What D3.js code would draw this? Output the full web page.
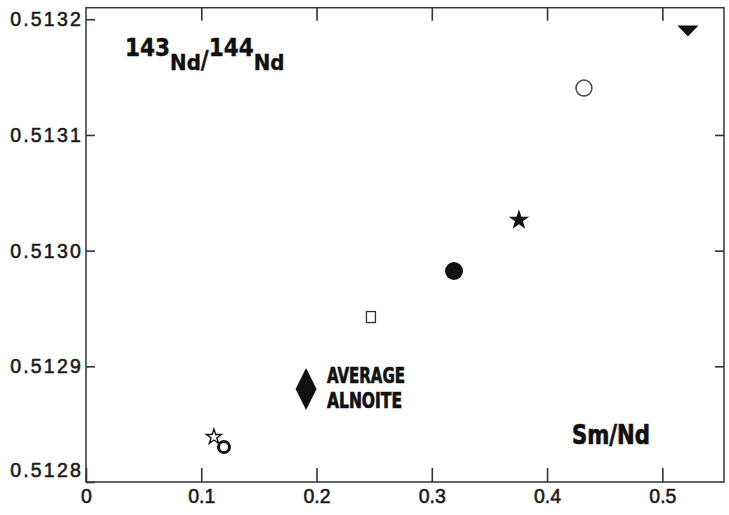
<!DOCTYPE html>
<html>
<head>
    <style>
        body { margin: 0; background: #fff; }
        .tick text { font-family: "Liberation Sans", Arial, sans-serif; font-size: 19.5px; fill: #1a1a1a; stroke: #1a1a1a; stroke-width: 0.55px; }
        .ylab .tick text { letter-spacing: 2.2px; }
        .xlab .tick text { letter-spacing: 0px; }
        .lbl { font-family: "Liberation Sans Narrow", "DejaVu Sans Condensed", sans-serif; font-weight: bold; fill: #111; stroke: #111; stroke-width: 0.7px; }
        .ttl { font-family: "DejaVu Sans Condensed", "Liberation Sans Narrow", sans-serif; font-weight: bold; fill: #111; stroke: #111; stroke-width: 0.4px; }
    </style>
    <script src="https://d3js.org/d3.v7.min.js"></script>
</head>
<body>
    <svg width="729" height="515"></svg>
    <script>
        // Sm/Nd vs 143Nd/144Nd
        var smNd   = [0.1110, 0.1197, 0.1909, 0.2472, 0.3193, 0.3756, 0.4320, 0.5222];
        var ndNd   = [0.5128389, 0.5128303, 0.5128804, 0.5129426, 0.5129824, 0.5130264, 0.5131405, 0.5131898];
        var marker = ["starOpen", "ring", "diamond", "square", "dot", "star", "circle", "triangle"];

        var xTicks = [0, 0.1, 0.2, 0.3, 0.4, 0.5];
        var yTicks = [0.5128, 0.5129, 0.5130, 0.5131, 0.5132];

        var svg = d3.select("svg");

        var x = d3.scaleLinear().domain([0, 0.5535]).range([86, 724]);
        var y = d3.scaleLinear().domain([0.5128, 0.51321]).range([482, 7.7]);

        // frame
        svg.append("rect")
           .attr("x", x.range()[0]).attr("y", y.range()[1])
           .attr("width", x.range()[1] - x.range()[0])
           .attr("height", y.range()[0] - y.range()[1])
           .attr("fill", "none").attr("stroke", "#333").attr("stroke-width", 1.5);

        // bottom axis, ticks pointing inward
        var gx = svg.append("g").attr("class", "xlab").attr("transform", "translate(0," + y.range()[0] + ")")
            .call(d3.axisBottom(x).tickValues(xTicks).tickSize(-14).tickPadding(7).tickFormat(function(d) { return d === 0 ? "0" : d3.format(".1f")(d); }));
        gx.select(".domain").remove();

        var gt = svg.append("g").attr("transform", "translate(0," + y.range()[1] + ")")
            .call(d3.axisTop(x).tickValues(xTicks.slice(1)).tickSize(-13).tickFormat(""));
        gt.select(".domain").remove();

        var gy = svg.append("g").attr("class", "ylab").attr("transform", "translate(" + x.range()[0] + ",0)")
            .call(d3.axisLeft(y).tickValues(yTicks).tickSize(-9).tickPadding(3).tickFormat(d3.format(".4f")));
        gy.select(".domain").remove();
        gy.selectAll(".tick text").attr("dy", function(d) { return d === 0.5128 ? "-0.3em" : "0.34em"; });

        var gr = svg.append("g").attr("transform", "translate(" + x.range()[1] + ",0)")
            .call(d3.axisRight(y).tickValues(yTicks.slice(1, 4)).tickSize(-9).tickFormat(""));
        gr.select(".domain").remove();

        svg.selectAll(".tick line").attr("stroke", "#333").attr("stroke-width", 1.6);

        // markers
        var data = smNd.map(function(v, i) { return { x: v, y: ndNd[i], m: marker[i] }; });

        var pts = svg.selectAll(".pt").data(data).enter().append("g")
            .attr("class", "pt")
            .attr("transform", function(d) { return "translate(" + x(d.x) + "," + y(d.y) + ")"; });

        pts.each(function(d) {
            var g = d3.select(this);
            if (d.m === "starOpen") {
                g.append("path").attr("d", d3.symbol(d3.symbolStar, 70)())
                 .attr("fill", "#fff").attr("stroke", "#111").attr("stroke-width", 1.4);
            } else if (d.m === "ring") {
                g.append("circle").attr("r", 5.5).attr("fill", "#fff").attr("stroke", "#111").attr("stroke-width", 3);
                g.append("path").attr("d", d3.symbol(d3.symbolStar, 14)()).attr("fill", "#fff");
            } else if (d.m === "diamond") {
                g.append("path").attr("d", d3.symbol(d3.symbolSquare, 220)())
                 .attr("transform", "scale(1,2) rotate(45)").attr("fill", "#111");
            } else if (d.m === "square") {
                g.append("rect").attr("x", -4.5).attr("y", -5.5).attr("width", 9).attr("height", 11)
                 .attr("fill", "#fff").attr("stroke", "#333").attr("stroke-width", 1.3);
            } else if (d.m === "dot") {
                g.append("circle").attr("r", 9).attr("fill", "#111");
            } else if (d.m === "star") {
                g.append("path").attr("d", d3.symbol(d3.symbolStar, 130)()).attr("fill", "#111");
            } else if (d.m === "circle") {
                g.append("circle").attr("r", 8).attr("fill", "#fff").attr("stroke", "#444").attr("stroke-width", 1.5);
            } else if (d.m === "triangle") {
                g.append("path").attr("d", "M-10.5,-5.5L10.5,-5.5L0,5.5Z").attr("fill", "#111");
            }
        });

        // labels
        var t = svg.append("text").attr("class", "ttl").attr("x", 125).attr("y", 56);
        t.append("tspan").text("143").style("font-size", "24px");
        t.append("tspan").text("Nd").style("font-size", "22px").attr("dy", 14);
        t.append("tspan").text("/").style("font-size", "24px").attr("dy", -2);
        t.append("tspan").text("144").style("font-size", "24px").attr("dy", -12);
        t.append("tspan").text("Nd").style("font-size", "22px").attr("dy", 14);

        svg.append("text").attr("class", "lbl").attr("x", 327).attr("y", 383)
           .attr("textLength", 78).attr("lengthAdjust", "spacingAndGlyphs")
           .style("font-size", "21px").text("AVERAGE");
        svg.append("text").attr("class", "lbl").attr("x", 327).attr("y", 408)
           .attr("textLength", 75).attr("lengthAdjust", "spacingAndGlyphs")
           .style("font-size", "21px").text("ALNOITE");

        svg.append("text").attr("class", "lbl").attr("x", 572).attr("y", 444)
           .attr("textLength", 78).attr("lengthAdjust", "spacingAndGlyphs")
           .style("font-size", "27px").text("Sm/Nd");
    </script>
</body>
</html>
